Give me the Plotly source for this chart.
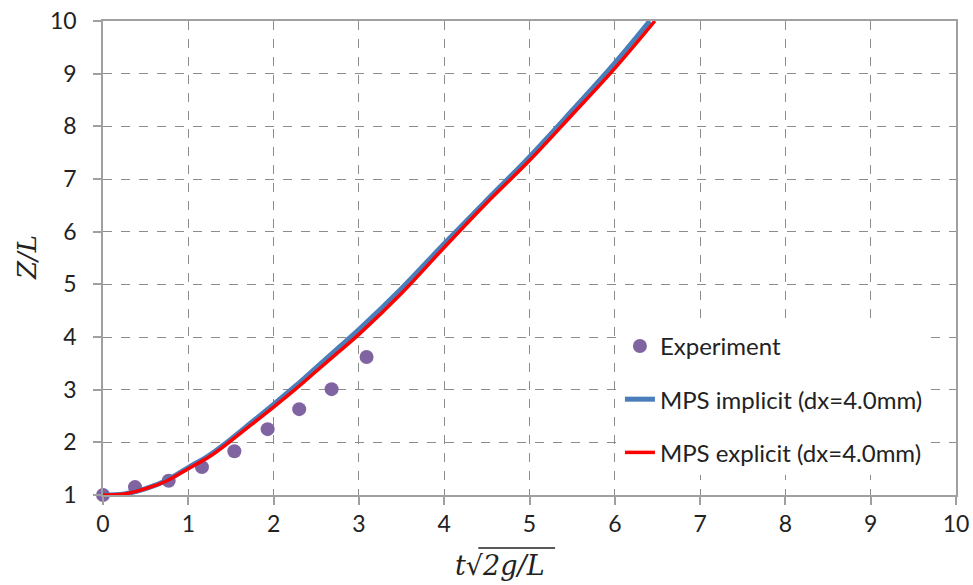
import plotly.graph_objects as go

# Experiment data
exp_x = [0.0, 0.375, 0.77, 1.16, 1.54, 1.93, 2.30, 2.68, 3.09]
exp_y = [1.0, 1.15, 1.27, 1.53, 1.83, 2.25, 2.63, 3.01, 3.62]

# MPS implicit (dx=4.0mm)
imp_x = [0, 0.25, 0.5, 0.75, 1.0, 1.25, 1.5, 1.75, 2.0, 2.25, 2.5, 2.75, 3.0, 3.5, 4.0, 4.5, 5.0, 5.5, 6.0, 6.41]
imp_y = [1.0, 1.02, 1.12, 1.28, 1.52, 1.76, 2.06, 2.39, 2.72, 3.06, 3.42, 3.78, 4.14, 4.92, 5.77, 6.60, 7.42, 8.30, 9.20, 10.0]

# MPS explicit (dx=4.0mm)
exp2_x = [0, 0.25, 0.5, 0.75, 1.0, 1.25, 1.5, 1.75, 2.0, 2.25, 2.5, 2.75, 3.0, 3.5, 4.0, 4.5, 5.0, 5.5, 6.0, 6.47]
exp2_y = [1.0, 1.02, 1.12, 1.27, 1.50, 1.73, 2.03, 2.35, 2.67, 3.00, 3.35, 3.70, 4.05, 4.83, 5.70, 6.55, 7.35, 8.22, 9.10, 10.0]

x_ticks = list(range(0, 11))
y_ticks = list(range(1, 11))

font_family = "Lato, 'Open Sans', sans-serif"
serif = "DejaVu Serif"

fig = go.Figure()
fig.add_trace(go.Scatter(x=exp_x, y=exp_y, mode="markers", name="Experiment", cliponaxis=False,
                         marker=dict(color="#8064a2", size=14), legendgroup="a"))
fig.add_trace(go.Scatter(x=imp_x, y=imp_y, mode="lines", name="MPS implicit (dx=4.0mm)",
                         line=dict(color="#4a7ebb", width=5, shape="spline"), legendgroup="b"))
fig.add_trace(go.Scatter(x=exp2_x, y=exp2_y, mode="lines", name="MPS explicit (dx=4.0mm)",
                         line=dict(color="#ff0000", width=3.5, shape="spline"), legendgroup="c"))

axis_common = dict(
    showline=True, linecolor="#a0a0a0", linewidth=1.5, mirror=True,
    showgrid=True, gridcolor="#8c8c8c", griddash="dash", gridwidth=1,
    ticks="outside", ticklen=8, tickcolor="#a0a0a0", tickwidth=1.5,
    zeroline=False, automargin=False,
    tickfont=dict(family=font_family, size=23, color="#222222"),
)

fig.update_layout(
    width=973, height=585,
    margin=dict(l=103, r=17, t=21, b=90, autoexpand=False),
    paper_bgcolor="white", plot_bgcolor="white",
    showlegend=True,
    legend=dict(x=0.606, y=0.361, xanchor="left", yanchor="top",
                bgcolor="white", borderwidth=0,
                font=dict(family=font_family, size=24, color="#222222"),
                traceorder="grouped", tracegroupgap=19),
    xaxis=dict(range=[0, 10], tickvals=x_ticks, **axis_common),
    yaxis=dict(range=[1, 10], tickvals=y_ticks, ticklabelstandoff=12, **axis_common),
    annotations=[
        dict(text="<i>t</i>√<i>2g/L</i>", xref="paper", yref="paper",
             x=0.465, y=-0.148, xanchor="center", yanchor="middle", showarrow=False,
             font=dict(family=serif, size=27, color="#222222")),
        dict(text="<i>Z/L</i>", xref="paper", yref="paper", textangle=-90,
             x=-0.089, y=0.5, xanchor="center", yanchor="middle", showarrow=False,
             font=dict(family=serif, size=26, color="#222222")),
    ],
    shapes=[
        dict(type="line", xref="paper", yref="paper", x0=0.44, x1=0.53, y0=-0.112, y1=-0.112,
             line=dict(color="#222222", width=1.5)),
    ],
)

fig.write_html("out.html")
